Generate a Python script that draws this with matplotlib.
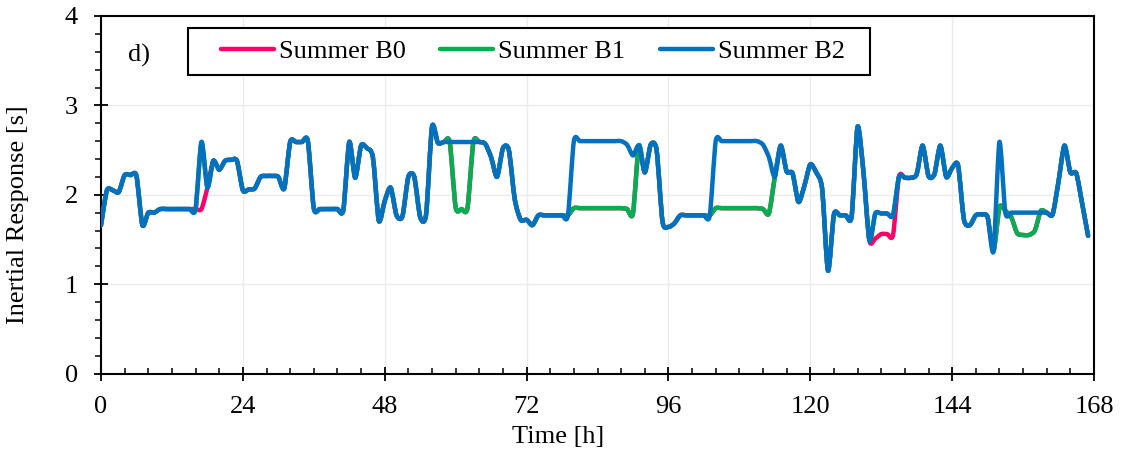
import numpy as np
import matplotlib
matplotlib.use("Agg")
import matplotlib.pyplot as plt
from matplotlib.path import Path
from matplotlib.patches import PathPatch, Rectangle
from matplotlib.lines import Line2D
from matplotlib.ticker import MultipleLocator

# ---------------- data (hourly, h = 0..167) ----------------
hours = list(range(168))

summer_b2 = [
    1.66, 2.05, 2.05, 2.03, 2.22, 2.22, 2.21, 1.66, 1.80, 1.80,   # 0-9
    1.84, 1.84, 1.84, 1.84, 1.84, 1.84, 1.84, 2.59, 2.08, 2.38,   # 10-19
    2.28, 2.38, 2.39, 2.38, 2.05, 2.06, 2.07, 2.20, 2.21, 2.21,   # 20-29
    2.20, 2.07, 2.59, 2.59, 2.59, 2.60, 1.85, 1.84, 1.84, 1.84,   # 30-39
    1.84, 1.83, 2.59, 2.19, 2.55, 2.52, 2.42, 1.71, 1.93, 2.08,   # 40-49
    1.77, 1.76, 2.20, 2.20, 1.75, 1.78, 2.76, 2.58, 2.59, 2.59,   # 50-59
    2.59, 2.59, 2.59, 2.59, 2.59, 2.57, 2.42, 2.20, 2.52, 2.50,   # 60-69
    1.95, 1.72, 1.72, 1.66, 1.77, 1.77, 1.77, 1.77, 1.77, 1.77,   # 70-79
    2.60, 2.60, 2.60, 2.60, 2.60, 2.60, 2.60, 2.60, 2.60, 2.56,   # 80-89
    2.44, 2.55, 2.25, 2.56, 2.50, 1.70, 1.64, 1.68, 1.77, 1.77,   # 90-99
    1.77, 1.77, 1.77, 1.77, 2.60, 2.60, 2.60, 2.60, 2.60, 2.60,   # 100-109
    2.60, 2.60, 2.56, 2.42, 2.20, 2.55, 2.26, 2.24, 1.92, 2.10,   # 110-119
    2.34, 2.25, 2.07, 1.15, 1.78, 1.77, 1.77, 1.76, 2.76, 2.25,   # 120-129
    1.49, 1.79, 1.79, 1.79, 1.77, 2.20, 2.19, 2.19, 2.23, 2.55,   # 130-139
    2.21, 2.23, 2.55, 2.20, 2.30, 2.33, 1.72, 1.66, 1.77, 1.78,   # 140-149
    1.75, 1.37, 2.59, 1.80, 1.80, 1.80, 1.80, 1.80, 1.80, 1.80,   # 150-159
    1.80, 1.78, 2.15, 2.55, 2.25, 2.24, 1.90, 1.54,               # 160-167
]

summer_b1 = [
    1.66, 2.05, 2.05, 2.03, 2.22, 2.22, 2.21, 1.66, 1.80, 1.80,
    1.84, 1.84, 1.84, 1.84, 1.84, 1.84, 1.84, 2.59, 2.08, 2.38,
    2.28, 2.38, 2.39, 2.38, 2.05, 2.06, 2.07, 2.20, 2.21, 2.21,
    2.20, 2.07, 2.59, 2.59, 2.59, 2.60, 1.85, 1.84, 1.84, 1.84,
    1.84, 1.83, 2.59, 2.19, 2.55, 2.52, 2.42, 1.71, 1.93, 2.08,
    1.77, 1.76, 2.20, 2.20, 1.75, 1.78, 2.76, 2.58, 2.59, 2.59,
    1.86, 1.84, 1.85, 2.59, 2.59, 2.57, 2.42, 2.20, 2.52, 2.50,
    1.95, 1.72, 1.72, 1.66, 1.77, 1.77, 1.77, 1.77, 1.77, 1.77,
    1.85, 1.85, 1.85, 1.85, 1.85, 1.85, 1.85, 1.85, 1.85, 1.84,
    1.79, 2.55, 2.25, 2.56, 2.50, 1.70, 1.64, 1.68, 1.77, 1.77,
    1.77, 1.77, 1.77, 1.77, 1.85, 1.85, 1.85, 1.85, 1.85, 1.85,
    1.85, 1.85, 1.84, 1.79, 2.20, 2.55, 2.26, 2.24, 1.92, 2.10,
    2.34, 2.25, 2.07, 1.15, 1.78, 1.77, 1.77, 1.76, 2.76, 2.25,
    1.49, 1.79, 1.79, 1.79, 1.77, 2.20, 2.19, 2.19, 2.23, 2.55,
    2.21, 2.23, 2.55, 2.20, 2.30, 2.33, 1.72, 1.66, 1.77, 1.78,
    1.75, 1.37, 1.86, 1.82, 1.75, 1.57, 1.55, 1.55, 1.60, 1.82,
    1.80, 1.78, 2.15, 2.55, 2.25, 2.24, 1.90, 1.54,
]

summer_b0 = [
    1.66, 2.05, 2.05, 2.03, 2.22, 2.22, 2.21, 1.66, 1.80, 1.80,
    1.84, 1.84, 1.84, 1.84, 1.84, 1.84, 1.84, 1.84, 2.08, 2.38,
    2.28, 2.38, 2.39, 2.38, 2.05, 2.06, 2.07, 2.20, 2.21, 2.21,
    2.20, 2.07, 2.59, 2.59, 2.59, 2.60, 1.85, 1.84, 1.84, 1.84,
    1.84, 1.83, 2.59, 2.19, 2.55, 2.52, 2.42, 1.71, 1.93, 2.08,
    1.77, 1.76, 2.20, 2.20, 1.75, 1.78, 2.76, 2.58, 2.59, 2.59,
    1.86, 1.84, 1.85, 2.59, 2.59, 2.57, 2.42, 2.20, 2.52, 2.50,
    1.95, 1.72, 1.72, 1.66, 1.77, 1.77, 1.77, 1.77, 1.77, 1.77,
    1.85, 1.85, 1.85, 1.85, 1.85, 1.85, 1.85, 1.85, 1.85, 1.84,
    1.79, 2.55, 2.25, 2.56, 2.50, 1.70, 1.64, 1.68, 1.77, 1.77,
    1.77, 1.77, 1.77, 1.77, 1.85, 1.85, 1.85, 1.85, 1.85, 1.85,
    1.85, 1.85, 1.84, 1.79, 2.20, 2.55, 2.26, 2.24, 1.92, 2.10,
    2.34, 2.25, 2.07, 1.15, 1.78, 1.77, 1.77, 1.76, 2.76, 2.25,
    1.49, 1.51, 1.56, 1.56, 1.55, 2.20, 2.19, 2.19, 2.23, 2.55,
    2.21, 2.23, 2.55, 2.20, 2.30, 2.33, 1.72, 1.66, 1.77, 1.78,
    1.75, 1.37, 1.86, 1.82, 1.75, 1.57, 1.55, 1.55, 1.60, 1.82,
    1.80, 1.78, 2.15, 2.55, 2.25, 2.24, 1.90, 1.54,
]

series_names = ["Summer B0", "Summer B1", "Summer B2"]
series_colors = ["#FF0066", "#00B050", "#0070C0"]
x_ticks = [0, 24, 48, 72, 96, 120, 144, 168]
y_ticks = [0, 1, 2, 3, 4]

# ---------------- style ----------------
plt.rcParams["font.family"] = ["Liberation Serif", "DejaVu Serif"]
plt.rcParams["font.size"] = 19


def smooth_path(xs, ys, k=8.0):
    """Smoothed line: cubic Bezier segments through the data points."""
    P = np.column_stack([xs, ys]).astype(float)
    n = len(P)
    verts = [tuple(P[0])]
    codes = [Path.MOVETO]
    for i in range(n - 1):
        p0 = P[i - 1] if i > 0 else P[i]
        p1 = P[i]
        p2 = P[i + 1]
        p3 = P[i + 2] if i + 2 < n else P[i + 1]
        c1 = p1 + (p2 - p0) / k
        c2 = p2 - (p3 - p1) / k
        verts += [tuple(c1), tuple(c2), tuple(p2)]
        codes += [Path.CURVE4] * 3
    return Path(verts, codes)


fig = plt.figure(figsize=(11.26, 4.5), dpi=100)
ax = fig.add_axes([101 / 1126, 1 - 373.5 / 450, 993 / 1126, 357.5 / 450])

lw = 3.2
for vals, col in zip([summer_b0, summer_b1, summer_b2], series_colors):
    patch = PathPatch(smooth_path(hours, vals), facecolor="none", edgecolor=col,
                      linewidth=lw, capstyle="round", joinstyle="round", zorder=3)
    ax.add_patch(patch)

ax.set_xlim(0, 168)
ax.set_ylim(0, 4)
ax.set_xticks(x_ticks)
ax.set_yticks(y_ticks)
ax.xaxis.set_minor_locator(MultipleLocator(4))
ax.yaxis.set_minor_locator(MultipleLocator(0.2))

ax.grid(True, which="major", color="#ebebeb", linewidth=1.0, zorder=0)
ax.set_axisbelow(True)

for sp in ax.spines.values():
    sp.set_linewidth(1.5)
    sp.set_color("black")

ax.tick_params(axis="x", which="major", direction="inout", length=10, width=1.3,
               pad=11, labelsize=19)
ax.tick_params(axis="x", which="minor", direction="in", length=4, width=1.1)
ax.tick_params(axis="y", which="major", direction="inout", length=10, width=1.3,
               pad=11.5, labelsize=19)
ax.tick_params(axis="y", which="minor", direction="out", length=4.5, width=1.1)

ax.set_xlabel("Time [h]", fontsize=19)
ax.xaxis.label.set_va("center")
ax.xaxis.set_label_coords((558 - 101) / 993, (373.5 - 437) / 357.5)
ax.set_ylabel("Inertial Response [s]", fontsize=19)
ax.yaxis.label.set_va("center")
ax.yaxis.set_label_coords((18 - 101) / 993, (373.5 - 215) / 357.5)

ax.text(0.038, 0.89, "d)", transform=ax.transAxes, fontsize=19,
        ha="center", va="center")

# legend frame (drawn separately so that inner padding matches the reference)
frame = Rectangle(((188 - 101) / 993, (373.5 - 75) / 357.5), (870 - 188) / 993,
                  47 / 357.5, transform=ax.transAxes, facecolor="white",
                  edgecolor="black", linewidth=1.5, zorder=4.5, clip_on=False)
ax.add_patch(frame)

handles = [Line2D([], [], color=c, linewidth=lw, solid_capstyle="round")
           for c in series_colors]
leg = ax.legend(handles, series_names, loc="center", ncol=3, mode="expand",
                bbox_to_anchor=((221 - 101) / 993, (373.5 - 75) / 357.5,
                                (845 - 221) / 993, 47 / 357.5),
                borderaxespad=0, frameon=False,
                handlelength=2.0, handletextpad=0.2, columnspacing=1.0,
                borderpad=0.0, fontsize=19)
leg.set_zorder(5)

fig.savefig("out.png", dpi=100)
